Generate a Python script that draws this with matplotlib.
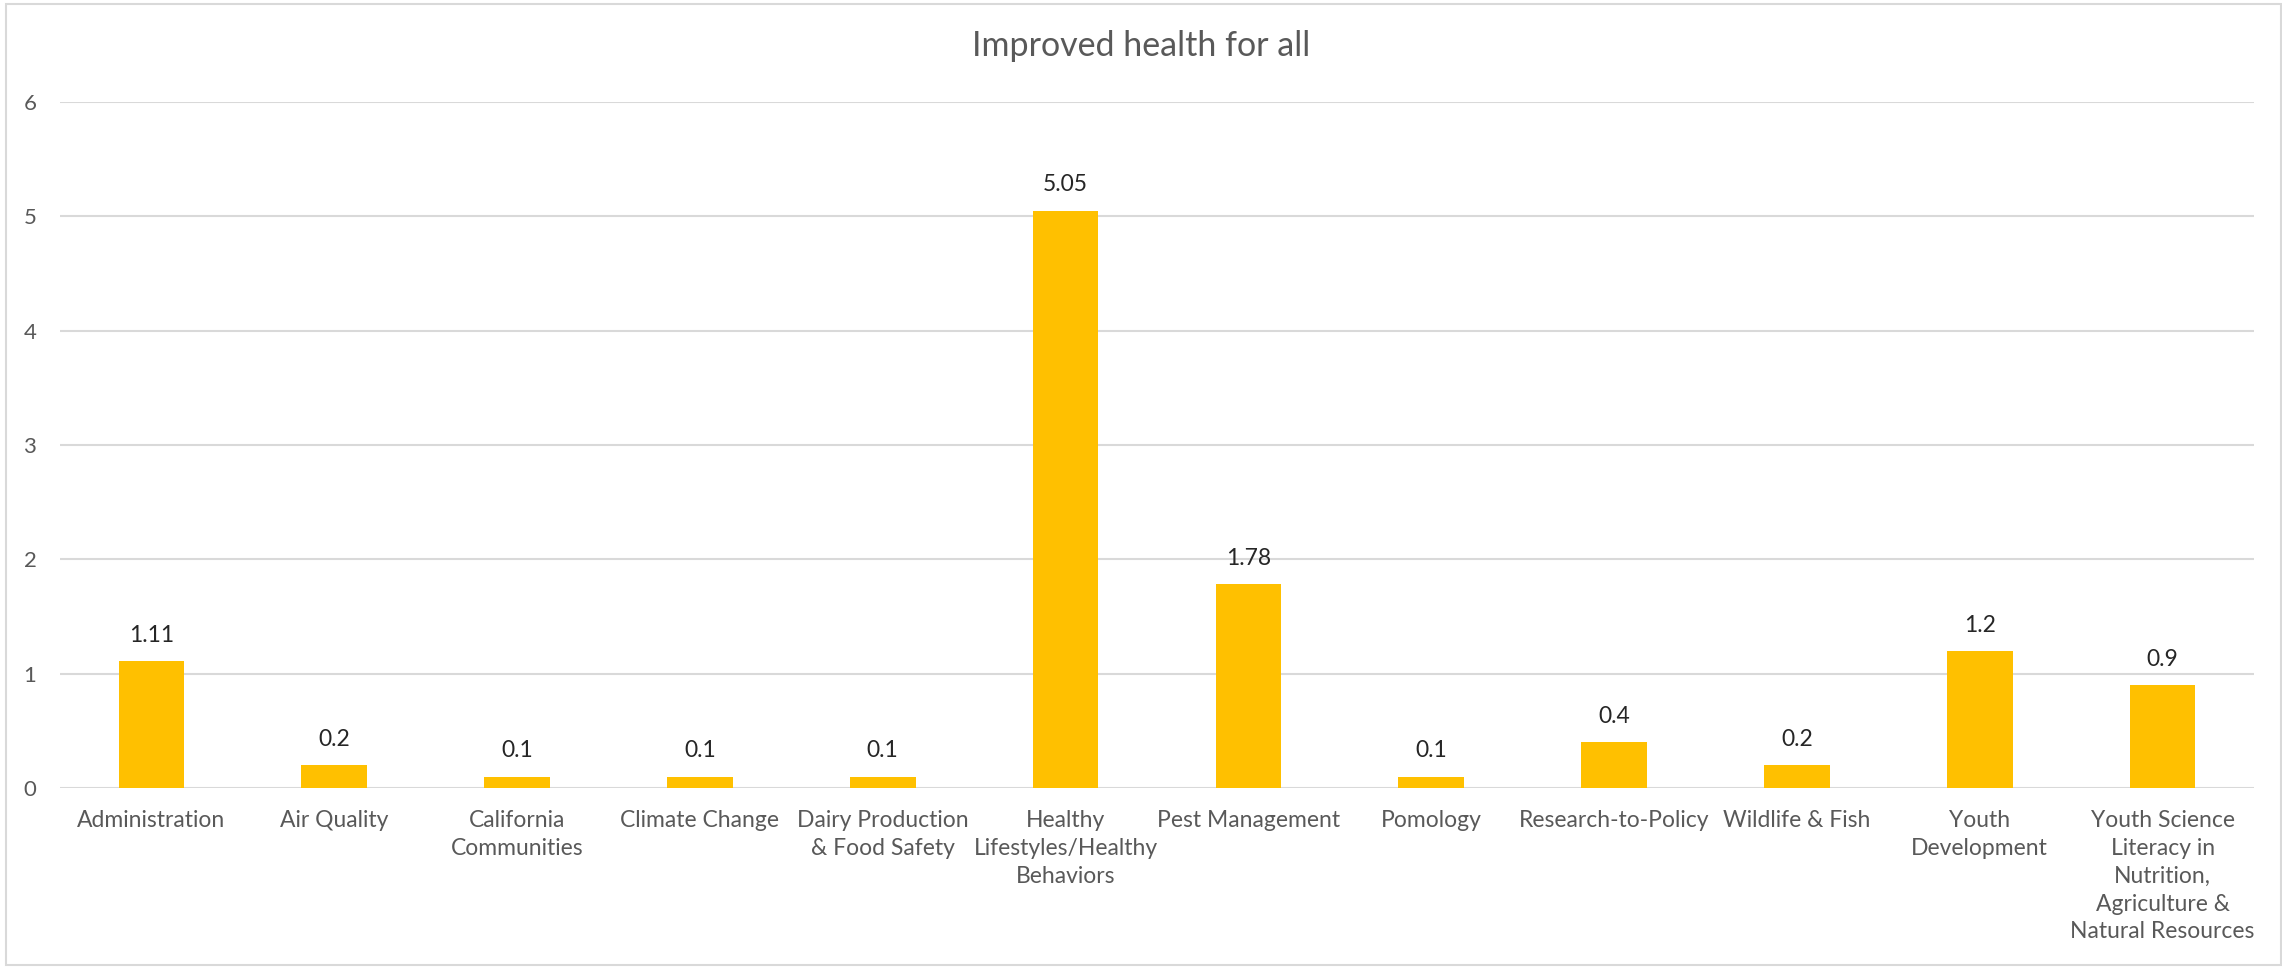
import matplotlib
matplotlib.use("Agg")
import matplotlib.pyplot as plt
from matplotlib.patches import Rectangle

categories = [
    "Administration",
    "Air Quality",
    "California\nCommunities",
    "Climate Change",
    "Dairy Production\n& Food Safety",
    "Healthy\nLifestyles/Healthy\nBehaviors",
    "Pest Management",
    "Pomology",
    "Research-to-Policy",
    "Wildlife & Fish",
    "Youth\nDevelopment",
    "Youth Science\nLiteracy in\nNutrition,\nAgriculture &\nNatural Resources",
]
values = [1.11, 0.2, 0.1, 0.1, 0.1, 5.05, 1.78, 0.1, 0.4, 0.2, 1.2, 0.9]
value_labels = ["1.11", "0.2", "0.1", "0.1", "0.1", "5.05", "1.78", "0.1", "0.4", "0.2", "1.2", "0.9"]
yticks = [0, 1, 2, 3, 4, 5, 6]
title = "Improved health for all"

plt.rcParams['font.family'] = ['Lato', 'DejaVu Sans']

W, H = 2282, 967
fig = plt.figure(figsize=(W / 100, H / 100), dpi=100)
ax = fig.add_axes([60 / W, 179 / H, 2194 / W, 686 / H])

x = list(range(len(categories)))
ax.bar(x, values, width=0.36, color="#FFC000", zorder=3)
ax.set_xlim(-0.5, len(categories) - 0.5)
ax.set_ylim(0, 6)
ax.set_yticks(yticks)
ax.set_yticklabels([str(t) for t in yticks])
ax.set_xticks(x)
ax.set_xticklabels(categories, fontsize=16.5, color="#595959", linespacing=1.4, va="top")
ax.tick_params(axis="x", length=0, pad=16)
ax.tick_params(axis="y", length=0, pad=17, labelsize=16, labelcolor="#595959")
for s in ax.spines.values():
    s.set_visible(False)
ax.grid(axis="y", color="#D9D9D9", linewidth=1.5, zorder=0)
ax.set_axisbelow(True)

for xi, v, lab in zip(x, values, value_labels):
    ax.annotate(lab, (xi, v), xytext=(0, 18.5), textcoords="offset points",
                ha="center", va="center", fontsize=16.5, color="#262626")

fig.text(0.5, 1 - 45.5 / H, title, ha="center", va="center", fontsize=24.5, color="#595959")

fig.patches.append(Rectangle((6 / W, 2 / H), 1 - 7 / W, 1 - 6 / H, transform=fig.transFigure,
                             fill=False, edgecolor="#D9D9D9", linewidth=1.5))

fig.savefig("out.png", dpi=100, facecolor="white")
